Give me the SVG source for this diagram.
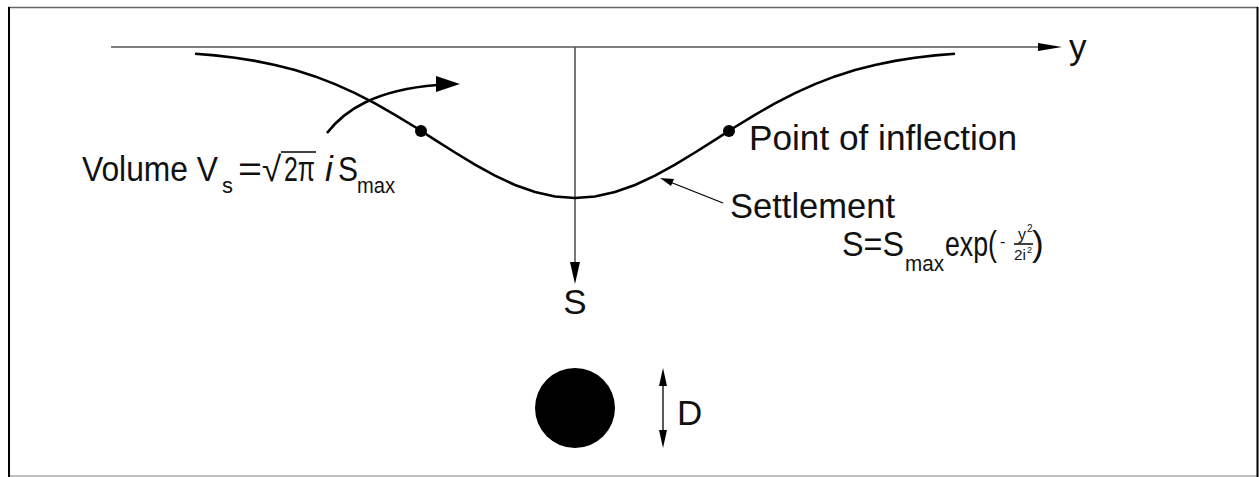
<svg xmlns="http://www.w3.org/2000/svg" width="1259" height="477" viewBox="0 0 1259 477">
<style>
text{font-family:"Liberation Sans",Arial,sans-serif;fill:#111}
.lbl{font-size:35px}
.sub{font-size:22px}
.axis{stroke:#555;stroke-width:1.6;fill:none}
.curve{stroke:#000;stroke-width:2.6;fill:none}
</style>
<rect width="1259" height="477" fill="#fff"/>
<g id="frame">
<line x1="8" y1="7.5" x2="1258" y2="7.5" stroke="#666" stroke-width="1.5"/>
<line x1="8" y1="476" x2="1258" y2="476" stroke="#aaa" stroke-width="1.5"/>
<line x1="9" y1="7" x2="9" y2="477" stroke="#000" stroke-width="2"/>
<line x1="1257.5" y1="7" x2="1257.5" y2="477" stroke="#000" stroke-width="2"/>
</g>
<g id="connectors">
<line class="axis" x1="111" y1="47" x2="1042" y2="47"/>
<polygon points="1038,43 1062,47 1038,51" fill="#000"/>
<line class="axis" x1="575" y1="47" x2="575" y2="265"/>
<polygon points="570,262 575,284 580,262" fill="#000"/>
<path class="curve" d="M327,133 C345,110 375,90 437,85"/>
<polygon points="436,76 460,84 436,92" fill="#000"/>
<line x1="723" y1="203" x2="670" y2="182" stroke="#000" stroke-width="1.3"/>
<polygon points="660,178 674,179 671,186" fill="#000"/>
<line x1="663" y1="382" x2="663" y2="434" stroke="#000" stroke-width="1.3"/>
<polygon points="659,386 663,368 667,386" fill="#000"/>
<polygon points="659,430 663,448 667,430" fill="#000"/>
</g>
<g id="settlement-curve">
<polyline class="curve" points="195,53.7 215,55.4 235,57.8 255,60.9 275,64.9 295,70 315,76.4 335,84.1 355,93.1 375,103.3 395,114.8 415,127 435,139.8 455,152.5 475,164.7 495,175.7 515,185 535,192.1 555,196.5 575,198 595,196.5 615,192.1 635,185 655,175.7 675,164.7 695,152.5 715,139.8 735,127 755,114.8 775,103.3 795,93.1 815,84.1 835,76.4 855,70 875,64.9 895,60.9 915,57.8 935,55.4 955,53.7"/>
<circle cx="421" cy="131" r="6" fill="#000"/>
<circle cx="729" cy="131" r="6" fill="#000"/>
</g>
<g id="tunnel">
<circle cx="575" cy="408" r="40" fill="#000"/>
</g>
<g id="labels">
<text class="lbl" x="1069" y="59">y</text>
<text class="lbl" x="575" y="314" text-anchor="middle">S</text>
<text class="lbl" x="677" y="425">D</text>
<text class="lbl" x="749" y="150" textLength="268" lengthAdjust="spacingAndGlyphs">Point of inflection</text>
<text class="lbl" x="730" y="218" textLength="165" lengthAdjust="spacingAndGlyphs">Settlement</text>
<text class="lbl" x="842" y="256" textLength="62" lengthAdjust="spacingAndGlyphs">S=S</text>
<text class="sub" x="905" y="271" textLength="39" lengthAdjust="spacingAndGlyphs">max</text>
<text class="lbl" x="945" y="256" textLength="52" lengthAdjust="spacingAndGlyphs">exp(</text>
<text font-size="16" x="1000" y="247">-</text>
<text font-size="16" x="1018" y="240">y</text>
<text font-size="10" x="1027" y="232">2</text>
<line x1="1014" y1="244" x2="1033" y2="244" stroke="#000" stroke-width="1.5"/>
<text font-size="15" x="1014" y="260" textLength="12" lengthAdjust="spacingAndGlyphs">2i</text>
<text font-size="9" x="1027" y="253">2</text>
<text class="lbl" x="1032" y="256">)</text>
<text class="lbl" x="82" y="181" textLength="136" lengthAdjust="spacingAndGlyphs">Volume V</text>
<text class="sub" x="222" y="193">s</text>
<text class="lbl" x="238" y="181" textLength="24" lengthAdjust="spacingAndGlyphs">=</text>
<text class="lbl" x="262" y="181">√</text>
<line x1="281" y1="152" x2="316" y2="152" stroke="#000" stroke-width="1.6"/>
<text class="lbl" x="284" y="181" textLength="31" lengthAdjust="spacingAndGlyphs">2π</text>
<text class="lbl" x="325" y="181" font-style="italic">i</text>
<text class="lbl" x="338" y="181" textLength="20" lengthAdjust="spacingAndGlyphs">S</text>
<text class="sub" x="357" y="193" textLength="38" lengthAdjust="spacingAndGlyphs">max</text>
</g>
</svg>
